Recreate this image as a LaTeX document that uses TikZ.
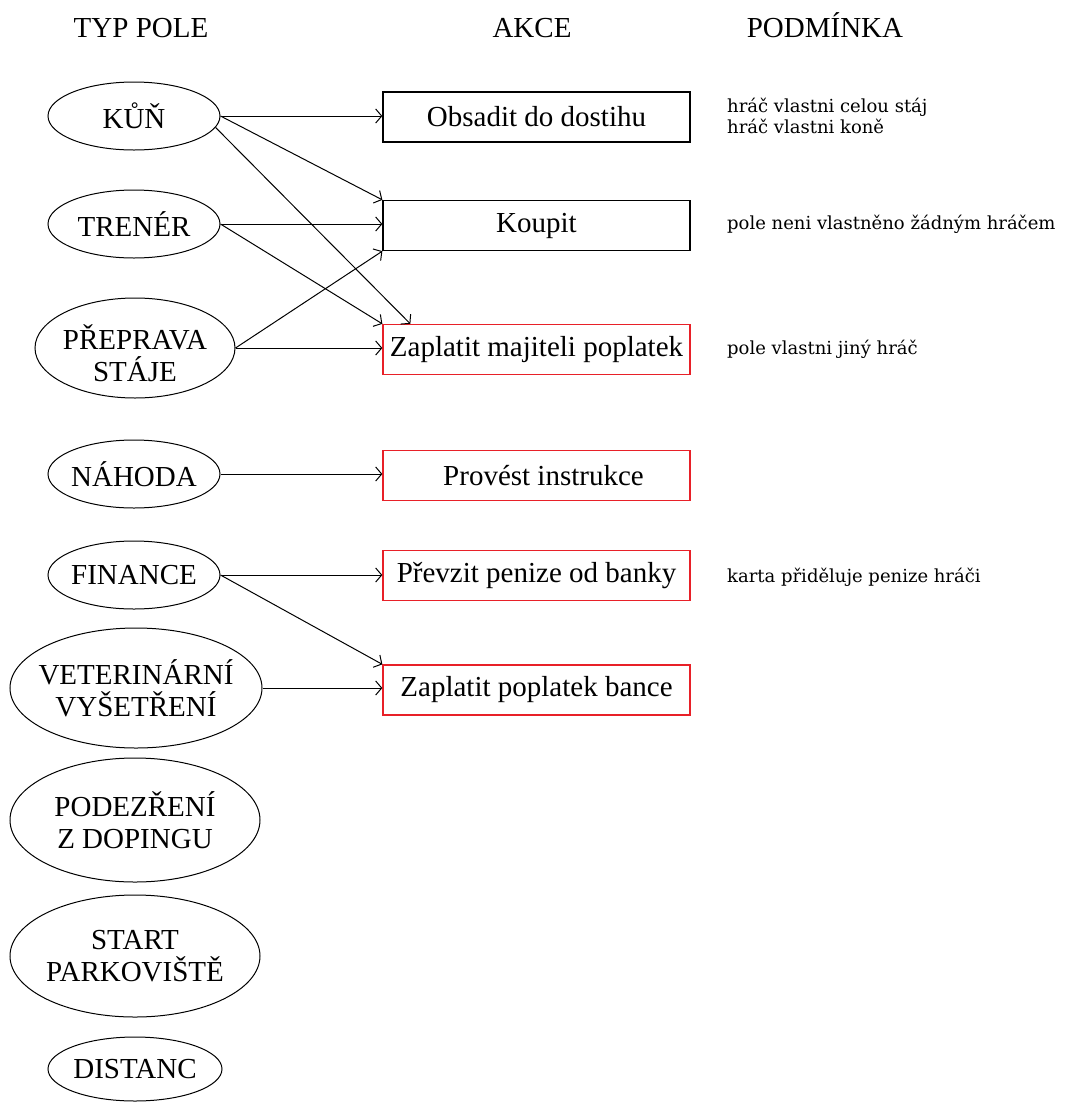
\documentclass[tikz,border=0pt]{standalone}
\usepackage{fontspec}
\setmainfont{Liberation Serif}
\newfontfamily\condfont{DejaVu Serif}
\usetikzlibrary{shapes.geometric,arrows.meta,calc}
\definecolor{boxred}{RGB}{232,32,40}
\begin{document}
\begin{tikzpicture}[x=1pt,y=-1pt,
 every node/.style={font=\fontsize{29}{32}\selectfont},
 field/.style={draw, ellipse, line width=1pt, inner sep=0pt},
 fieldtext/.style={align=center, inner sep=0pt},
 act/.style={draw, line width=1.3pt, minimum width=307pt, minimum height=50pt, inner sep=0pt},
 redact/.style={act, draw=boxred},
 cond/.style={anchor=west, font=\condfont\fontsize{18}{21}\selectfont, align=left, inner sep=0pt},
 hdr/.style={inner sep=0pt, anchor=base},
 conn/.style={line width=1pt, -{Straight Barb[length=6pt,width=14pt]}}]
\useasboundingbox (0,0) rectangle (1065,1104);

% headers
\node[hdr] (h1) at (141,37) {TYP POLE};
\node[hdr] (h2) at (532,37) {AKCE};
\node[hdr] (h3) at (825,37) {PODMÍNKA};

% field types (ellipses)
\node[field, minimum width=172pt, minimum height=68pt] (kun) at (134,116) {};
\node[fieldtext] at (kun) {KŮŇ};
\node[field, minimum width=172pt, minimum height=68pt] (trener) at (134,224) {};
\node[fieldtext] at (trener) {TRENÉR};
\node[field, minimum width=200pt, minimum height=100pt] (preprava) at (135,348) {};
\node[fieldtext] at ($(preprava)+(0,5)$) {PŘEPRAVA\\STÁJE};
\node[field, minimum width=172pt, minimum height=68pt] (nahoda) at (134,474) {};
\node[fieldtext] at (nahoda) {NÁHODA};
\node[field, minimum width=172pt, minimum height=68pt] (finance) at (134,575) {};
\node[fieldtext] at (finance) {FINANCE};
\node[field, minimum width=252pt, minimum height=120pt] (veter) at (136,688) {};
\node[fieldtext] at (veter) {VETERINÁRNÍ\\VYŠETŘENÍ};
\node[field, minimum width=250pt, minimum height=124pt] (podez) at (135,820) {};
\node[fieldtext] at (podez) {PODEZŘENÍ\\Z DOPINGU};
\node[field, minimum width=250pt, minimum height=122pt] (start) at (135,956) {};
\node[fieldtext] at (start) {START\\PARKOVIŠTĚ};
\node[field, minimum width=174pt, minimum height=64pt] (distanc) at (135,1069) {};
\node[fieldtext] at (distanc) {DISTANC};

% actions
\node[act] (obs) at (536.5,117) {Obsadit do dostihu};
\node[act] (koupit) at (536.5,225.5) {Koupit};
\node[redact] (zapm) at (536.5,349.5) {Zaplatit majiteli poplatek};
\node[redact] (provest) at (536.5,475.5) {\hspace*{14pt}Provést instrukce};
\node[redact] (prevzit) at (536.5,575.5) {Převzit penize od banky};
\node[redact] (zapb) at (536.5,690) {Zaplatit poplatek bance};

% conditions
\node[cond] (c1) at (727,116) {hráč vlastni celou stáj\\hráč vlastni koně};
\node[cond] (c2) at (727,224) {pole neni vlastněno žádným hráčem};
\node[cond] (c3) at (727,349) {pole vlastni jiný hráč};
\node[cond] (c4) at (727,577) {karta přiděluje penize hráči};

% connectors
\draw[conn] (kun.east) -- (kun.east -| obs.west);
\draw[conn] (kun.east) -- (koupit.north west);
\draw[conn] (kun.-8) -- ($(zapm.north west)+(28,0)$);
\draw[conn] (trener.east) -- (trener.east -| koupit.west);
\draw[conn] (trener.east) -- (zapm.north west);
\draw[conn] (preprava.east) -- (koupit.south west);
\draw[conn] (preprava.east) -- (preprava.east -| zapm.west);
\draw[conn] (nahoda.east) -- (nahoda.east -| provest.west);
\draw[conn] (finance.east) -- (finance.east -| prevzit.west);
\draw[conn] (finance.east) -- (zapb.north west);
\draw[conn] (veter.east) -- (veter.east -| zapb.west);
\end{tikzpicture}
\end{document}
